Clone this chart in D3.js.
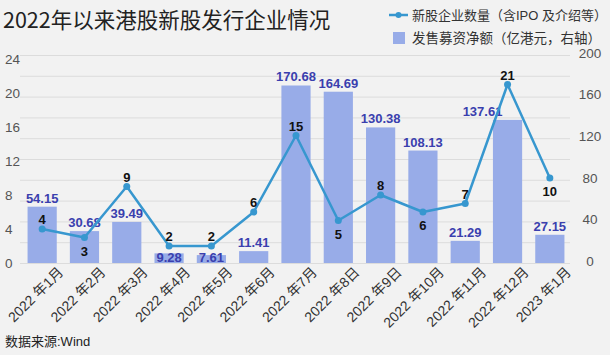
<!DOCTYPE html>
<html><head><meta charset="utf-8">
<script src="https://cdn.jsdelivr.net/npm/d3@7"></script>
<style>
html,body{margin:0;padding:0;background:#f2f2f2;}
svg{display:block;font-family:"Liberation Sans","Noto Sans CJK SC",sans-serif;}
</style></head>
<body><svg id="c" width="610" height="355"></svg>
<script>
const categories = ["2022 年1月","2022 年2月","2022 年3月","2022 年4月","2022 年5月","2022 年6月","2022 年7月","2022 年8日","2022 年9日","2022 年10月","2022 年11月","2022 年12月","2023 年1月"];
const counts = [4,3,9,2,2,6,15,5,8,6,7,21,10];
const amounts = [54.15,30.68,39.49,9.28,7.61,11.41,170.68,164.69,130.38,108.13,21.29,137.61,27.15];
const leftTicks = [0,4,8,12,16,20,24];
const rightTicks = [0,40,80,120,160,200];
const countLabelBelow = [false,true,false,false,false,false,false,true,false,true,false,false,true];
const title = "2022年以来港股新股发行企业情况";
const legendLine = "新股企业数量（含IPO 及介绍等）";
const legendBar = "发售募资净额（亿港元，右轴）";
const source = "数据来源:Wind";

const svg = d3.select("#c");
svg.append("rect").attr("width",610).attr("height",355).attr("fill","#f2f2f2");

const x = d3.scaleBand().domain(categories).range([21,571]).paddingInner(0.31).paddingOuter(0.155);
const yL = d3.scaleLinear().domain([0,24]).range([263,59]);
const yR = d3.scaleLinear().domain([0,200]).range([263,55]);

// gridlines every 20 on right axis
const grid = svg.append("g");
grid.selectAll("line").data(d3.range(0,201,20)).join("line")
  .attr("x1",20).attr("x2",570)
  .attr("y1",d=>yR(d)+0.5).attr("y2",d=>yR(d)+0.5)
  .attr("stroke","#dcdcdc").attr("stroke-width",1);

// left axis labels
svg.append("g").selectAll("text").data(leftTicks).join("text")
  .attr("x",5).attr("y",d=>yL(d)).attr("dy","0.35em")
  .attr("font-size",13.5).attr("fill","#555").text(d=>d);
// right axis labels
svg.append("g").selectAll("text").data(rightTicks).join("text")
  .attr("x",590).attr("y",d=>yR(d)-2).attr("dy","0.35em").attr("text-anchor","middle")
  .attr("font-size",13.5).attr("fill","#555").text(d=>d);

// bars
svg.append("g").selectAll("rect").data(amounts).join("rect")
  .attr("x",(d,i)=>x(categories[i])).attr("width",x.bandwidth())
  .attr("y",d=>yR(d)).attr("height",d=>yR(0)-yR(d))
  .attr("fill","#98ace8");

// bar labels
const barLabelShift = [0,0,0,0,0,0,0,0,0,0,0,-25,0];
svg.append("g").selectAll("text").data(amounts).join("text")
  .attr("x",(d,i)=>x(categories[i])+x.bandwidth()/2+barLabelShift[i])
  .attr("y",d=> d<10 ? yR(0)-1.5 : yR(d)-4)
  .attr("text-anchor","middle").attr("font-size",13).attr("font-weight","bold")
  .attr("fill","#3a3fae").text(d=>d.toFixed(2));

// line
const cx = (i)=>x(categories[i])+x.bandwidth()/2;
const line = d3.line().x((d,i)=>cx(i)).y(d=>yL(d));
svg.append("path").datum(counts).attr("d",line).attr("fill","none")
  .attr("stroke","#3797cf").attr("stroke-width",2.5).attr("stroke-linejoin","round");
svg.append("g").selectAll("circle").data(counts).join("circle")
  .attr("cx",(d,i)=>cx(i)).attr("cy",d=>yL(d)).attr("r",3.5).attr("fill","#3797cf");
svg.append("g").selectAll("text").data(counts).join("text")
  .attr("x",(d,i)=>cx(i)).attr("y",(d,i)=> countLabelBelow[i] ? yL(d)+18 : yL(d)-5)
  .attr("text-anchor","middle").attr("font-size",13).attr("font-weight","bold")
  .attr("fill","#111").text(d=>d);

// x labels
svg.append("g").selectAll("text").data(categories).join("text")
  .attr("transform",d=>`translate(${x(d)+x.bandwidth()/2+22},273) rotate(-45)`)
  .attr("text-anchor","end").attr("font-size",14).attr("fill","#333").text(d=>d);

// title
svg.append("text").attr("x",3).attr("y",28).attr("font-size",21.5).attr("fill","#222")
  .attr("font-family","'Noto Sans CJK SC',sans-serif").text(title);

// legend
svg.append("line").attr("x1",389).attr("x2",408).attr("y1",15).attr("y2",15)
  .attr("stroke","#3797cf").attr("stroke-width",2.5);
svg.append("circle").attr("cx",398.5).attr("cy",15).attr("r",3).attr("fill","#3797cf");
svg.append("text").attr("x",412).attr("y",15).attr("dy","0.35em").attr("font-size",13)
  .attr("fill","#333").text(legendLine);
svg.append("rect").attr("x",393).attr("y",32).attr("width",12).attr("height",12).attr("fill","#98ace8");
svg.append("text").attr("x",412).attr("y",38).attr("dy","0.35em").attr("font-size",13.5)
  .attr("fill","#333").text(legendBar);

// source
svg.append("text").attr("x",5).attr("y",346).attr("font-size",13).attr("fill","#222").text(source);
</script></body></html>
